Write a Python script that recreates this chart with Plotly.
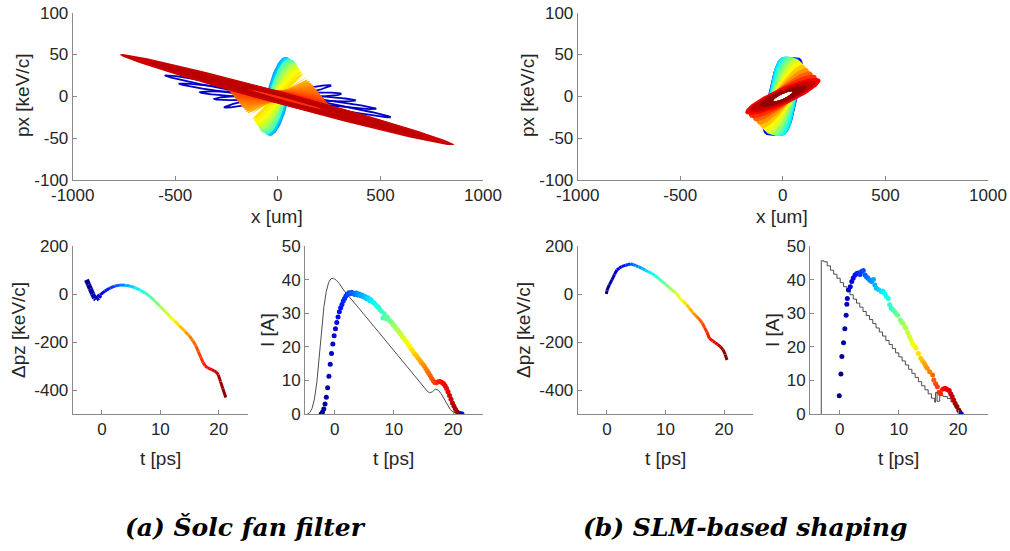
import numpy as np
import plotly.graph_objects as go

FONT = 'Liberation Sans'
AX = '#8a8a8a'
TXT = '#262626'

# ---------------- top row: x-px phase space ----------------
# every longitudinal slice is one ellipse: colour (0 head .. 1 tail), centre,
# two conjugate half axes (um, keV/c), squareness of the outline
# kind: 'line' = outline only, 'fill' = filled, 'ring' = filled with hollow middle

# (a) Solc fan filter
a_col = [0.07, 0.07, 0.07, 0.07, 0.07,
         0.28, 0.32, 0.36, 0.40,
         0.45, 0.50, 0.54, 0.57, 0.60, 0.62, 0.64, 0.655, 0.67, 0.685, 0.70, 0.71,
         0.72, 0.73, 0.74, 0.75, 0.76, 0.77, 0.78, 0.79, 0.80, 0.81, 0.82, 0.83,
         0.90, 0.96, 0.93, 0.92, 0.94]
a_cx = [0, 0, 0, 0, 0,
        0, 0, 0, 0,
        0, 0, 0, 0, 0, 0, 0, 0, 0, 0, 0, 0,
        0, 0, 0, 0, 0, 0, 0, 0, 0, 0, 0, 0,
        45, 45, 45, 45, 45]
a_cpx = [0, 0, 0, 0, 0,
         0, 0, 0, 0,
         0, 0, 0, 0, 0, 0, 0, 0, 0, 0, 0, 0,
         0, 0, 0, 0, 0, 0, 0, 0, 0, 0, 0, 0,
         -4, -4, -4, -4, -4]
a_ux = [550, 480, 380, 310, 260,
        40, 46, 52, 56,
        60, 68, 76, 84, 92, 100, 109, 118, 127, 136, 145, 154,
        163, 172, 181, 190, 199, 208, 217, 226, 235, 244, 252, 258,
        560, 700, 815, 760, 680]
a_upx = [-25, -15, -5, 3, 13,
         47, 47, 46, 45.5,
         44.1, 41.7, 39.4, 37.0, 34.7, 32.3, 29.7, 27.1, 24.4, 21.8, 19.1, 16.5,
         13.9, 11.2, 8.6, 5.9, 3.3, 0.7, -2.0, -4.6, -7.3, -9.9, -12.2, -14.0,
         -37, -46, -54, -50, -45]
a_vx = [0, 0, 0, 0, 0,
        52, 48, 44, 40,
        46, 42, 38, 34, 31, 28, 24, 21, 18, 16, 14, 12,
        10, 8, 7, 5, 4, 2, 0, 0, 0, 0, 0, 0,
        0, 0, 0, 0, 0]
a_vpx = [3.5, 3.5, 3.5, 3.5, 3.5,
         -4, -4, -3, -2,
         -1, 0, 0, 0, 0, 0, 1, 2, 3, 3.5, 4, 5,
         5.5, 6, 6.5, 7, 7, 7, 7, 7, 7, 7, 7, 7,
         7, 7.5, 8, 7, 6]
a_sq = [1, 1, 1, 1, 1,
        1, 1, 1, 1,
        0.65, 0.65, 0.65, 0.65, 0.65, 0.65, 0.65, 0.65, 0.65, 0.65, 0.65, 0.65,
        0.65, 0.65, 0.65, 0.65, 0.65, 0.65, 0.65, 0.65, 0.65, 0.65, 0.65, 0.65,
        1, 1, 1, 1, 1]
a_kind = ['line'] * 5 + ['fill'] * 28 + ['ring'] * 5

# (b) SLM-based shaping, all slices share one hollow core
b_col = [0.12, 0.25, 0.34, 0.40, 0.46, 0.52, 0.58, 0.63, 0.68, 0.73, 0.78, 0.83, 0.88, 0.93, 0.98]
b_cx = [0] * 15
b_cpx = [0] * 15
b_ux = [42, 38, 34, 40, 52, 66, 82, 96, 112, 127, 145, 165, 184, 160, 115]
b_upx = [47, 47, 46, 46, 45, 44, 42, 39, 35, 31, 27, 23, 19, 16, 11]
b_vx = [74, 70, 66, 60, 53, 46, 38, 31, 25, 20, 15, 8, 0, 0, 0]
b_vpx = [0, -2, -4, -6, -8, -9, -10, -10, -10, -10, -10, -11, 11, 9, 7]
b_sq = [0.5, 0.52, 0.55, 0.6, 0.63, 0.66, 0.7, 0.72, 0.74, 0.77, 0.8, 0.9, 1, 1, 1]
b_core = [48, 5.2, 0, 3.2]

# ---------------- bottom row: longitudinal phase space and current ----------------
a_dpz_t = [-2.64, -2.3, -1.98, -1.6, -1.25, -1.0, -0.6, -0.3, 0.5, 1.4, 2.2, 3.1, 4.0, 4.8, 5.6, 6.5,
           7.4, 8.2, 9.0, 9.9, 10.8, 11.6, 12.5, 13.3, 14.2, 15.0, 15.6, 16.1, 16.5, 16.95, 17.3,
           17.7, 18.1, 18.4, 18.8, 19.2, 19.6, 19.9, 20.3, 20.7, 21.2]
a_dpz = [59, 40, 22, 0, -17, -22, -14, -4, 12, 25, 33, 37, 36, 33, 27, 17,
         4, -10, -28, -50, -72, -93, -114, -134, -155, -176, -196, -217, -240, -265, -285,
         -300, -308, -311, -315, -320, -326, -336, -365, -395, -431]

b_dpz_t = [-0.1, 0.0, 0.4, 0.85, 1.3, 1.7, 2.1, 2.5, 3.2, 3.96, 4.5, 4.9, 5.36, 5.9, 6.5, 7.0,
           7.6, 8.2, 8.75, 9.3, 9.9, 10.5, 11.0, 11.6, 11.9, 12.4, 13.0, 13.6, 14.1, 14.7, 15.3,
           15.8, 16.3, 16.7, 17.1, 17.5, 18.1, 18.5, 18.9, 19.4, 19.8, 20.2, 20.5]
b_dpz = [0, 15, 38, 59, 82, 100, 108, 114, 120, 125, 123, 118, 114, 108, 100, 93,
         87, 77, 66, 55, 43, 30, 18, 8, 2, -17, -30, -44, -60, -79, -93,
         -106, -122, -141, -160, -185, -196, -203, -210, -220, -231, -252, -275]

# current of the slices (dots)
a_cur_t = [-2.28, -2.06, -1.84, -1.62, -1.4, -1.18, -0.96, -0.74, -0.52, -0.3,
           -0.08, 0.14, 0.36, 0.58, 0.8, 1.02, 1.24, 1.46, 1.68, 1.9, 2.12,
           2.4, 2.65, 2.9, 3.15, 3.4, 3.65, 3.9, 4.15, 4.4, 4.65,
           4.9, 5.15, 5.4, 5.65, 5.9, 6.15, 6.4, 6.65, 6.9, 7.15,
           7.4, 7.65, 7.9, 8.15, 8.4, 8.65, 8.9, 9.15, 9.4, 9.65,
           9.9, 10.15, 10.4, 10.65, 10.9, 11.15, 11.4, 11.65, 11.9, 12.15,
           12.4, 12.65, 12.9, 13.15, 13.4, 13.65, 13.9, 14.15, 14.4, 14.65,
           14.9, 15.15, 15.4, 15.65, 15.9, 16.15, 16.4, 16.65, 16.9, 17.15,
           17.4, 17.65, 17.9, 18.15, 18.4, 18.65, 18.9, 19.15, 19.4, 19.65,
           19.9, 20.15, 20.4, 20.65, 20.9, 21.15, 21.4]
a_cur = [0.0, 0.5, 1.5, 3.0, 5.0, 7.8, 11.2, 14.8, 18.0, 20.8,
         23.3, 25.4, 27.2, 28.9, 30.4, 31.6, 32.6, 33.6, 34.4, 35.1, 35.6,
         36.1, 35.8, 36.2, 35.9, 35.6, 36.0, 35.4, 35.7, 35.2, 35.4,
         34.8, 35.0, 34.3, 34.6, 33.8, 34.0, 33.3, 33.0, 32.6, 32.1,
         31.8, 31.0, 30.6, 28.6, 29.8, 28.4, 28.9, 28.0, 27.6, 27.2,
         26.5, 26.1, 25.4, 25.0, 24.3, 23.9, 23.1, 22.6, 21.9, 21.5,
         20.7, 20.2, 19.4, 18.9, 18.1, 17.7, 17.1, 16.5, 15.9, 15.3,
         14.8, 14.2, 13.5, 12.8, 12.1, 11.4, 10.6, 9.9, 9.4, 9.3,
         9.5, 9.7, 9.6, 9.4, 9.0, 8.4, 7.6, 6.6, 5.5, 4.4,
         3.3, 2.3, 1.4, 0.7, 0.3, 0.1, 0.0]
a_last_dot = [21.5, 0.0]

b_cur_t = [-0.06, 0.22, 0.38, 0.66, 0.88, 1.1, 1.22, 1.3, 1.5, 1.8,
           2.05, 2.3, 2.6, 2.9, 3.16, 3.45, 3.7, 4.0, 4.3, 4.55,
           4.8, 5.1, 5.4, 5.7, 5.95, 6.2, 6.6, 7.05, 7.3, 7.6,
           7.9, 8.2, 8.45, 8.7, 9.0, 9.3, 9.55, 9.8, 10.25, 10.5,
           10.7, 11.0, 11.2, 11.5, 11.8, 12.05, 12.3, 12.6, 12.9, 13.3,
           13.7, 14.0, 14.3, 14.55, 14.8, 15.2, 15.7, 15.9, 16.2, 16.5,
           16.8, 17.05, 17.4, 17.7, 17.9, 18.2, 18.5, 18.75, 19.0, 19.25,
           19.5, 19.8, 20.1, 20.3]
b_cur = [5.4, 11.9, 17.1, 21.2, 25.4, 29.4, 32.7, 34.4, 36.9, 37.9,
         39.4, 40.5, 41.4, 41.8, 42.0, 41.5, 42.4, 42.7, 41.4, 40.8,
         40.4, 39.8, 39.4, 40.0, 38.4, 37.4, 37.0, 36.4, 36.6, 35.9,
         35.0, 34.4, 32.5, 31.5, 31.0, 30.4, 29.8, 29.4, 28.0, 27.2,
         27.0, 26.0, 25.5, 24.2, 23.0, 22.0, 21.0, 20.3, 19.6, 18.0,
         16.6, 15.8, 15.1, 14.2, 13.6, 12.6, 11.6, 10.1, 9.0, 8.1,
         6.5, 6.0, 7.4, 7.6, 7.6, 7.2, 7.0, 6.0, 5.2, 4.2,
         3.2, 2.2, 1.2, 0.6]
b_last_dot = [20.55, 0.0]

# target current profile (thin grey line)
a_ref_t = [-4.6, -4.2, -3.8, -3.4, -3.0, -2.6, -2.2, -1.8, -1.4, -1.0, -0.6, -0.2, 0.3, 0.8,
           1.4, 2.0, 4.0, 6.0, 8.0, 10.0, 12.0, 14.0, 15.0, 15.6, 16.0, 16.5, 17.0, 17.5,
           18.0, 18.5, 19.0, 19.5, 20.0, 20.5, 21.0, 21.3]
a_ref = [0, 0.4, 1.7, 4.5, 9.5, 17, 25.5, 32, 36.5, 39.2, 40.3, 40.4, 39.8, 38.8,
         37.2, 35.8, 31.7, 27.4, 23.2, 18.9, 14.6, 10.4, 8.2, 6.9, 6.3, 6.6, 7.4, 7.1,
         6.0, 4.4, 2.7, 1.4, 0.6, 0.2, 0.0, 0.0]

b_ref_t = [-3.1, -3.1, -2.65, -2.1, -1.55, -1.0, -0.45, 0.1, 0.65, 1.2, 1.75, 2.3, 2.85, 3.4,
           3.95, 4.5, 5.05, 5.6, 6.15, 6.7, 7.25, 7.8, 8.35, 8.9, 9.45, 10.0, 10.55, 11.1,
           11.65, 12.2, 12.75, 13.3, 13.85, 14.4, 14.95, 15.5, 16.05, 16.2, 16.45, 16.9,
           17.5, 18.2, 18.8, 19.4, 19.9, 20.4]
b_ref = [0, 45.6, 45.3, 44.1, 42.8, 41.6, 40.4, 39.1, 37.9, 36.7, 35.5, 34.2, 33.0, 31.8,
         30.5, 29.3, 28.1, 26.9, 25.6, 24.4, 23.2, 21.9, 20.7, 19.5, 18.2, 17.0, 15.8, 14.6,
         13.3, 12.1, 10.9, 9.6, 8.4, 7.2, 6.0, 4.7, 3.5, 6.4, 3.8, 5.5,
         5.2, 4.6, 3.6, 2.2, 1.0, 0.0]


def jet(c):
    c = float(np.clip(c, 0, 1))
    r = np.clip(min(4 * c - 1.5, -4 * c + 4.5), 0, 1)
    g = np.clip(min(4 * c - 0.5, -4 * c + 3.5), 0, 1)
    b = np.clip(min(4 * c + 0.5, -4 * c + 2.5), 0, 1)
    return 'rgb(%d,%d,%d)' % (255 * r, 255 * g, 255 * b)


def outline(cx, cy, ux, uy, vx, vy, sq=1.0, k=1.0, n=180):
    th = np.linspace(0, 2 * np.pi, n)
    c = np.sign(np.cos(th)) * np.abs(np.cos(th)) ** sq
    s = np.sign(np.sin(th)) * np.abs(np.sin(th)) ** sq
    return cx + k * (ux * c + vx * s), cy + k * (uy * c + vy * s)


fig = go.Figure()


def add_slice(xa, ya, col, cx, cy, ux, uy, vx, vy, sq, kind, core=None):
    colour = jet(col)
    x, y = outline(cx, cy, ux, uy, vx, vy, sq)
    if kind == 'line':
        fig.add_trace(go.Scatter(x=x, y=y, mode='lines', line=dict(color=colour, width=1.8),
                                 xaxis=xa, yaxis=ya, hoverinfo='skip'))
        return
    if kind == 'ring':
        xi, yi = outline(cx, cy, ux, uy, vx, vy, sq, k=0.3)
        x, y = np.concatenate([x, xi[::-1]]), np.concatenate([y, yi[::-1]])
    if core is not None:
        xi, yi = outline(0, 0, *core)
        # hollow core has to run the other way round than the slice outline
        if np.sign(ux * vy - uy * vx) == np.sign(core[0] * core[3] - core[1] * core[2]):
            xi, yi = xi[::-1], yi[::-1]
        x, y = np.concatenate([x, xi]), np.concatenate([y, yi])
    fig.add_trace(go.Scatter(x=x, y=y, mode='lines', fill='toself', fillcolor=colour,
                             line=dict(color=colour, width=0), xaxis=xa, yaxis=ya, hoverinfo='skip'))


for i in range(len(a_col)):
    add_slice('x', 'y', a_col[i], a_cx[i], a_cpx[i], a_ux[i], a_upx[i], a_vx[i], a_vpx[i],
              a_sq[i], a_kind[i])

for i in range(len(b_col)):
    add_slice('x2', 'y2', b_col[i], b_cx[i], b_cpx[i], b_ux[i], b_upx[i], b_vx[i], b_vpx[i],
              b_sq[i], 'fill', core=b_core)


def add_dpz(xa, ya, t, p):
    t0, t1 = min(t), max(t)
    for i in range(len(t) - 1):
        c = (0.5 * (t[i] + t[i + 1]) - t0) / (t1 - t0)
        # the head of the bunch is a wider smear of particles
        w = 5 if t[i + 1] < 0 else 3
        fig.add_trace(go.Scatter(x=[t[i], t[i + 1]], y=[p[i], p[i + 1]], mode='lines',
                                 line=dict(color=jet(c), width=w), xaxis=xa, yaxis=ya,
                                 hoverinfo='skip'))


add_dpz('x3', 'y3', a_dpz_t, a_dpz)
add_dpz('x5', 'y5', b_dpz_t, b_dpz)


def add_current(xa, ya, t, cur, ref_t, ref, shape, last):
    fig.add_trace(go.Scatter(x=ref_t, y=ref, mode='lines', line=dict(color='#4d4d4d', width=1, shape=shape),
                             xaxis=xa, yaxis=ya, hoverinfo='skip'))
    t0, t1 = min(t), max(t)
    cols = [jet((v - t0) / (t1 - t0)) for v in t]
    fig.add_trace(go.Scatter(x=t, y=cur, mode='markers', marker=dict(color=cols, size=5),
                             xaxis=xa, yaxis=ya, hoverinfo='skip'))
    fig.add_trace(go.Scatter(x=[last[0]], y=[last[1]], mode='markers', marker=dict(color=jet(0.1), size=5),
                             xaxis=xa, yaxis=ya, hoverinfo='skip'))


add_current('x4', 'y4', a_cur_t, a_cur, a_ref_t, a_ref, 'linear', a_last_dot)
add_current('x6', 'y6', b_cur_t, b_cur, b_ref_t, b_ref, 'hv', b_last_dot)


def axis(domain, rng, ticks, anchor):
    return dict(domain=domain, range=rng, tickvals=ticks, ticktext=[str(v) for v in ticks],
                anchor=anchor, showline=True, linecolor=AX, linewidth=1, ticks='inside',
                ticklen=4, tickcolor=AX, showgrid=False, zeroline=False, fixedrange=True,
                automargin=False, ticklabeloverflow='allow',
                tickfont=dict(family=FONT, size=17, color=TXT))


# positions below are the pixels of the picture (page margin is removed on save)
W, H = 1010.0, 551.0


def fx(px):
    return px / W


def fy(py):
    return 1 - py / H


top = [fy(180), fy(12.7)]
bot = [fy(414), fy(246)]
xt = [-1000, -500, 0, 500, 1000]
yt = [-100, -50, 0, 50, 100]
tt = [0, 10, 20]

layout = dict(
    width=W, height=H, margin=dict(l=0, r=0, t=0, b=0, pad=0), autosize=False,
    paper_bgcolor='white', plot_bgcolor='white', showlegend=False,
    xaxis=axis([fx(72.7), fx(483)], [-1000, 1000], xt, 'y'),
    yaxis=axis(top, [-100, 100], yt, 'x'),
    xaxis2=axis([fx(577.7), fx(988)], [-1000, 1000], xt, 'y2'),
    yaxis2=axis(top, [-100, 100], yt, 'x2'),
    xaxis3=axis([fx(72.7), fx(248)], [-5, 25], tt, 'y3'),
    yaxis3=axis(bot, [-500, 200], [-400, -200, 0, 200], 'x3'),
    xaxis4=axis([fx(305), fx(482.7)], [-5, 25], tt, 'y4'),
    yaxis4=axis(bot, [0, 50], [0, 10, 20, 30, 40, 50], 'x4'),
    xaxis5=axis([fx(577.7), fx(753.3)], [-5, 25], tt, 'y5'),
    yaxis5=axis(bot, [-500, 200], [-400, -200, 0, 200], 'x5'),
    xaxis6=axis([fx(810), fx(987.7)], [-5, 25], tt, 'y6'),
    yaxis6=axis(bot, [0, 50], [0, 10, 20, 30, 40, 50], 'x6'),
)
fig.update_layout(**layout)

# axis titles and sub-captions placed in pixels
labels = [
    ('x [um]', 277, 216, 0), ('px [keV/c]', 22, 96, -90),
    ('x [um]', 782, 216, 0), ('px [keV/c]', 527, 96, -90),
    ('t [ps]', 160, 458, 0), ('\u0394pz [keV/c]', 18, 330, -90),
    ('t [ps]', 393, 458, 0), ('I [A]', 267, 330, -90),
    ('t [ps]', 665, 458, 0), ('\u0394pz [keV/c]', 523, 330, -90),
    ('t [ps]', 898, 458, 0), ('I [A]', 772, 330, -90),
]
for text, px, py, ang in labels:
    fig.add_annotation(text=text, x=fx(px), y=fy(py), xref='paper', yref='paper',
                       showarrow=False, textangle=ang, xanchor='center', yanchor='middle',
                       font=dict(family=FONT, size=19, color=TXT))

for text, px in [('(a) \u0160olc fan filter', 245), ('(b) SLM-based shaping', 745)]:
    fig.add_annotation(text='<b><i>' + text + '</i></b>', x=fx(px), y=fy(527),
                       xref='paper', yref='paper', showarrow=False, xanchor='center',
                       yanchor='middle', font=dict(family='DejaVu Serif', size=25, color='black'))

fig.write_html("out.html", config={'displayModeBar': False},
               post_script="document.body.style.margin = '0';")
